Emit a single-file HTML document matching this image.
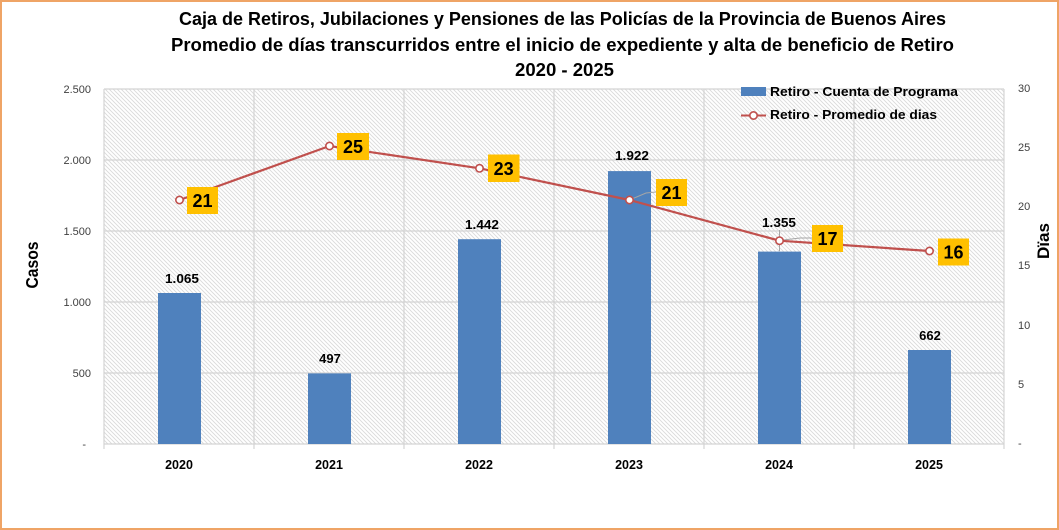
<!DOCTYPE html>
<html>
<head>
<meta charset="utf-8">
<style>
html,body{margin:0;padding:0;background:#fff;}
svg{display:block;}
text{font-family:"Liberation Sans",Arial,sans-serif;}
</style>
</head>
<body>
<svg width="1059" height="530" viewBox="0 0 1059 530" xmlns="http://www.w3.org/2000/svg">
<defs>
<pattern id="hatch" patternUnits="userSpaceOnUse" width="4" height="4">
<rect width="4" height="4" fill="#ffffff"/>
<path d="M0,0 L4,4 M-1,3 L1,5 M3,-1 L5,1" stroke="#dadada" stroke-width="0.9"/>
</pattern>
</defs>
<rect x="0" y="0" width="1059" height="530" fill="#ffffff"/>
<rect x="1" y="1" width="1057" height="528" fill="none" stroke="#efa466" stroke-width="2"/>

<!-- Title -->
<g font-weight="bold" font-size="18" fill="#000" text-anchor="start">
<text x="179" y="25" textLength="767" lengthAdjust="spacingAndGlyphs">Caja de Retiros, Jubilaciones y Pensiones de las Policías de la Provincia de Buenos Aires</text>
<text x="171" y="51" textLength="783" lengthAdjust="spacingAndGlyphs">Promedio de días transcurridos  entre el inicio de expediente y alta de beneficio de Retiro</text>
<text x="515" y="76" textLength="99" lengthAdjust="spacingAndGlyphs">2020 - 2025</text>
</g>

<!-- Plot area -->
<rect x="104" y="89" width="900" height="355" fill="url(#hatch)"/>
<!-- gridlines -->
<g stroke="#d4d4d4" stroke-width="1.2">
<line x1="104" y1="89" x2="1004" y2="89"/>
<line x1="104" y1="160" x2="1004" y2="160"/>
<line x1="104" y1="231" x2="1004" y2="231"/>
<line x1="104" y1="302" x2="1004" y2="302"/>
<line x1="104" y1="373" x2="1004" y2="373"/>
<line x1="104" y1="89" x2="104" y2="449"/>
<line x1="254" y1="89" x2="254" y2="449"/>
<line x1="404" y1="89" x2="404" y2="449"/>
<line x1="554" y1="89" x2="554" y2="449"/>
<line x1="704" y1="89" x2="704" y2="449"/>
<line x1="854" y1="89" x2="854" y2="449"/>
<line x1="1004" y1="89" x2="1004" y2="449"/>
<line x1="104" y1="444" x2="1004" y2="444"/>
</g>

<!-- Bars -->
<g fill="#4f81bd">
<rect x="158" y="293" width="43" height="151"/>
<rect x="308" y="373.4" width="43" height="70.6"/>
<rect x="458" y="239.2" width="43" height="204.8"/>
<rect x="608" y="171.1" width="43" height="272.9"/>
<rect x="758" y="251.6" width="43" height="192.4"/>
<rect x="908" y="350" width="43" height="94"/>
</g>

<!-- Bar labels -->
<g font-weight="bold" font-size="13" fill="#000" text-anchor="middle">
<text x="182" y="283" textLength="34" lengthAdjust="spacingAndGlyphs">1.065</text>
<text x="330" y="363">497</text>
<text x="482" y="229" textLength="34" lengthAdjust="spacingAndGlyphs">1.442</text>
<text x="632" y="160" textLength="34" lengthAdjust="spacingAndGlyphs">1.922</text>
<text x="779" y="227" textLength="34" lengthAdjust="spacingAndGlyphs">1.355</text>
<text x="930" y="340">662</text>
</g>

<!-- leader lines -->
<g stroke="#a6a6a6" stroke-width="1" fill="none">
<line x1="779.5" y1="230" x2="779.5" y2="251"/>
<polyline points="633,198.5 646,193 656,192"/>
<polyline points="783,240 800,238 812,238"/>
</g>

<!-- Line series -->
<polyline points="179.5,200 329.5,146 479.5,168.3 629.5,200 779.5,240.7 929.5,251" fill="none" stroke="#c0504d" stroke-width="2.2" stroke-linejoin="round"/>
<g fill="#ffffff" stroke="#c0504d" stroke-width="1.6">
<circle cx="179.5" cy="200" r="3.7"/>
<circle cx="329.5" cy="146" r="3.7"/>
<circle cx="479.5" cy="168.3" r="3.7"/>
<circle cx="629.5" cy="200" r="3.7"/>
<circle cx="779.5" cy="240.7" r="3.7"/>
<circle cx="929.5" cy="251" r="3.7"/>
</g>

<!-- Line labels (boxes) -->
<g fill="#ffc000">
<rect x="187" y="187" width="31" height="27"/>
<rect x="337" y="133" width="32" height="27"/>
<rect x="488" y="154.5" width="31.5" height="27.5"/>
<rect x="656" y="179" width="31" height="27"/>
<rect x="812" y="225" width="31" height="27"/>
<rect x="938" y="238.5" width="31" height="27"/>
</g>
<g font-weight="bold" font-size="18" fill="#000" text-anchor="middle">
<text x="202.5" y="207">21</text>
<text x="353" y="153">25</text>
<text x="503.7" y="175">23</text>
<text x="671.5" y="199">21</text>
<text x="827.5" y="245">17</text>
<text x="953.5" y="258.5">16</text>
</g>

<!-- Left axis labels -->
<g font-size="11" fill="#404040" text-anchor="end">
<text x="91" y="93">2.500</text>
<text x="91" y="164">2.000</text>
<text x="91" y="235">1.500</text>
<text x="91" y="306">1.000</text>
<text x="91" y="377">500</text>
<text x="86" y="448">-</text>
</g>
<!-- Right axis labels -->
<g font-size="11" fill="#404040" text-anchor="start">
<text x="1018" y="92">30</text>
<text x="1018" y="151">25</text>
<text x="1018" y="210">20</text>
<text x="1018" y="269">15</text>
<text x="1018" y="329">10</text>
<text x="1018" y="388">5</text>
<text x="1018" y="447">-</text>
</g>

<!-- Category labels -->
<g font-weight="bold" font-size="12.5" fill="#000" text-anchor="middle">
<text x="179" y="469">2020</text>
<text x="329" y="469">2021</text>
<text x="479" y="469">2022</text>
<text x="629" y="469">2023</text>
<text x="779" y="469">2024</text>
<text x="929" y="469">2025</text>
</g>

<!-- Axis titles -->
<text transform="translate(38,265) rotate(-90)" text-anchor="middle" font-weight="bold" font-size="17.5" fill="#000" textLength="47" lengthAdjust="spacingAndGlyphs">Casos</text>
<text transform="translate(1049,241) rotate(-90)" text-anchor="middle" font-weight="bold" font-size="17" fill="#000" textLength="36" lengthAdjust="spacingAndGlyphs">Dïas</text>

<!-- Legend -->
<rect x="741" y="87" width="25" height="9" fill="#4f81bd"/>
<line x1="741" y1="115.5" x2="766" y2="115.5" stroke="#c0504d" stroke-width="2"/>
<circle cx="753.5" cy="115.5" r="3.7" fill="#fff" stroke="#c0504d" stroke-width="1.6"/>
<g font-weight="bold" font-size="12.5" fill="#000">
<text x="770" y="96" textLength="188" lengthAdjust="spacingAndGlyphs">Retiro - Cuenta de Programa</text>
<text x="770" y="119" textLength="167" lengthAdjust="spacingAndGlyphs">Retiro - Promedio de dias</text>
</g>
</svg>
</body>
</html>
